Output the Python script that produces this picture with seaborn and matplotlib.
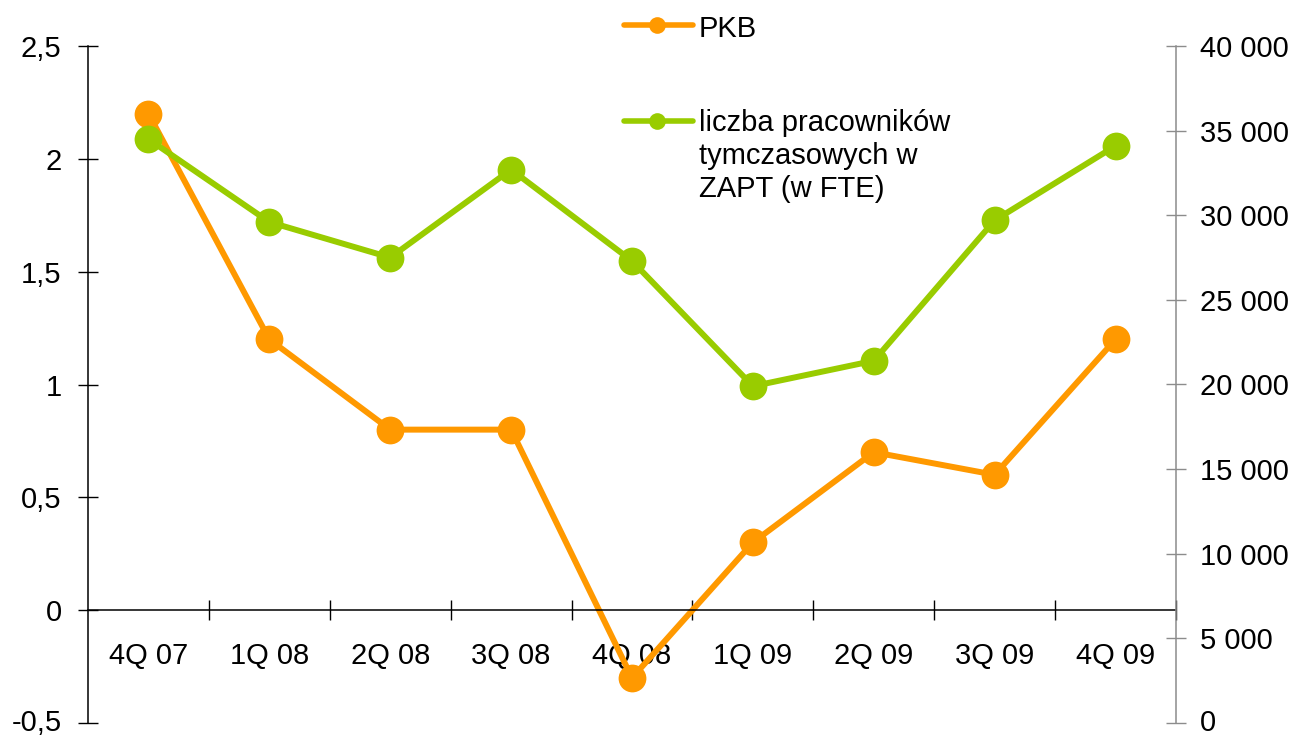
#!/usr/bin/env python
"""
PKB vs. temporary workers in ZAPT, quarterly 4Q 07 - 4Q 09 (dual axis).
"""
# Third-party
import matplotlib.pyplot as plt
import matplotlib.ticker as ticker
import matplotlib.transforms as mtransforms
import pandas as pd
import seaborn as sns
from matplotlib.lines import Line2D

# Data
QUARTERS = [
    "4Q 07", "1Q 08", "2Q 08", "3Q 08", "4Q 08",
    "1Q 09", "2Q 09", "3Q 09", "4Q 09",
]
PKB = [2.2, 1.2, 0.8, 0.8, -0.3, 0.3, 0.7, 0.6, 1.2]
WORKERS = [34500, 29600, 27500, 32700, 27300, 19900, 21400, 29700, 34100]

LABEL_PKB = "PKB"
LABEL_WORKERS = "liczba pracowników\ntymczasowych w\nZAPT (w FTE)"

ORANGE = "#FF9900"
GREEN = "#99CC00"
FONT_SIZE = 21


def main():
    sns.set_theme(style="white")
    plt.rcParams["font.family"] = ["Liberation Sans", "DejaVu Sans"]
    plt.rcParams["text.color"] = "black"

    data = pd.DataFrame({"quarter": QUARTERS, "pkb": PKB, "workers": WORKERS})

    fig = plt.figure(figsize=(12.96, 7.36), dpi=100)
    ax = fig.add_axes([88 / 1296, 13 / 736, (1176 - 88) / 1296, (723 - 46) / 736])
    ax.set_facecolor("none")

    sns.lineplot(
        data, x="quarter", y="pkb", ax=ax, sort=False, color=ORANGE,
        linewidth=4.3, marker="o", markersize=20,
        markeredgecolor=ORANGE, markeredgewidth=0, legend=False,
    )

    ax2 = ax.twinx()
    sns.lineplot(
        data, x="quarter", y="workers", ax=ax2, sort=False, color=GREEN,
        linewidth=4.3, marker="o", markersize=20,
        markeredgecolor=GREEN, markeredgewidth=0, legend=False,
    )

    # Left axis
    ax.set_xlim(-0.5, len(QUARTERS) - 0.5)
    ax.set_ylim(-0.5, 2.5)
    ax.set_yticks([-0.5, 0, 0.5, 1, 1.5, 2, 2.5])
    ax.yaxis.set_major_formatter(
        ticker.FuncFormatter(lambda v, pos: f"{v:g}".replace(".", ","))
    )
    ax.set_xlabel("")
    ax.set_ylabel("")
    for side in ("top", "right"):
        ax.spines[side].set_visible(False)
    ax.spines["left"].set_color("black")
    ax.spines["left"].set_linewidth(1.1)
    ax.spines["bottom"].set_position(("data", 0))
    ax.spines["bottom"].set_color("black")
    ax.spines["bottom"].set_linewidth(1.1)

    # Category boundaries get the tick marks, centres get the labels
    n = len(QUARTERS)
    ax.set_xticks([i + 0.5 for i in range(n)])
    ax.set_xticklabels([])
    ax.set_xticks(list(range(n)), minor=True)
    ax.set_xticklabels(QUARTERS, minor=True)
    ax.tick_params(axis="x", which="major", direction="inout", length=14,
                   width=1, color="black", bottom=True)
    ax.tick_params(axis="x", which="minor", length=0, pad=23,
                   labelsize=FONT_SIZE, labelcolor="black", bottom=True)
    ax.tick_params(axis="y", direction="inout", length=14, width=1,
                   color="black", left=True, pad=12, labelsize=FONT_SIZE,
                   labelcolor="black")

    # Right axis
    ax2.set_ylim(0, 40000)
    ax2.set_yticks(range(0, 40001, 5000))
    ax2.yaxis.set_major_formatter(
        ticker.FuncFormatter(lambda v, pos: f"{int(v):,}".replace(",", " "))
    )
    ax2.set_ylabel("")
    for side in ("top", "left", "bottom"):
        ax2.spines[side].set_visible(False)
    ax2.spines["right"].set_color("#8c8c8c")
    ax2.spines["right"].set_linewidth(1.1)
    ax2.tick_params(axis="y", direction="inout", length=14, width=1,
                    color="#8c8c8c", right=True, pad=10, labelsize=FONT_SIZE,
                    labelcolor="black")
    ax2.grid(False)
    ax.grid(False)

    # Lift the lowest labels a touch so they are not cut by the figure edge
    for label in (ax.get_yticklabels()[0], ax2.get_yticklabels()[0]):
        label.set_transform(mtransforms.offset_copy(
            label.get_transform(), fig=fig, y=3, units="dots"
        ))

    # Legend, drawn by hand so the handle sits on the first text line
    entries = (
        (24.5, 15, ORANGE, LABEL_PKB),
        (121, 109, GREEN, LABEL_WORKERS),
    )
    for y_handle, y_text, color, label in entries:
        yf = 1 - y_handle / 736
        fig.add_artist(Line2D(
            [624 / 1296, 693 / 1296], [yf, yf], transform=fig.transFigure,
            color=color, linewidth=4, solid_capstyle="round",
        ))
        fig.add_artist(Line2D(
            [657 / 1296], [yf], transform=fig.transFigure, color=color,
            marker="o", markersize=12, markeredgewidth=0,
        ))
        fig.text(699 / 1296, 1 - y_text / 736, label, fontsize=FONT_SIZE,
                 va="top", ha="left", linespacing=1.23, color="black")

    fig.savefig("out.png", dpi=100)


if __name__ == "__main__":
    main()
